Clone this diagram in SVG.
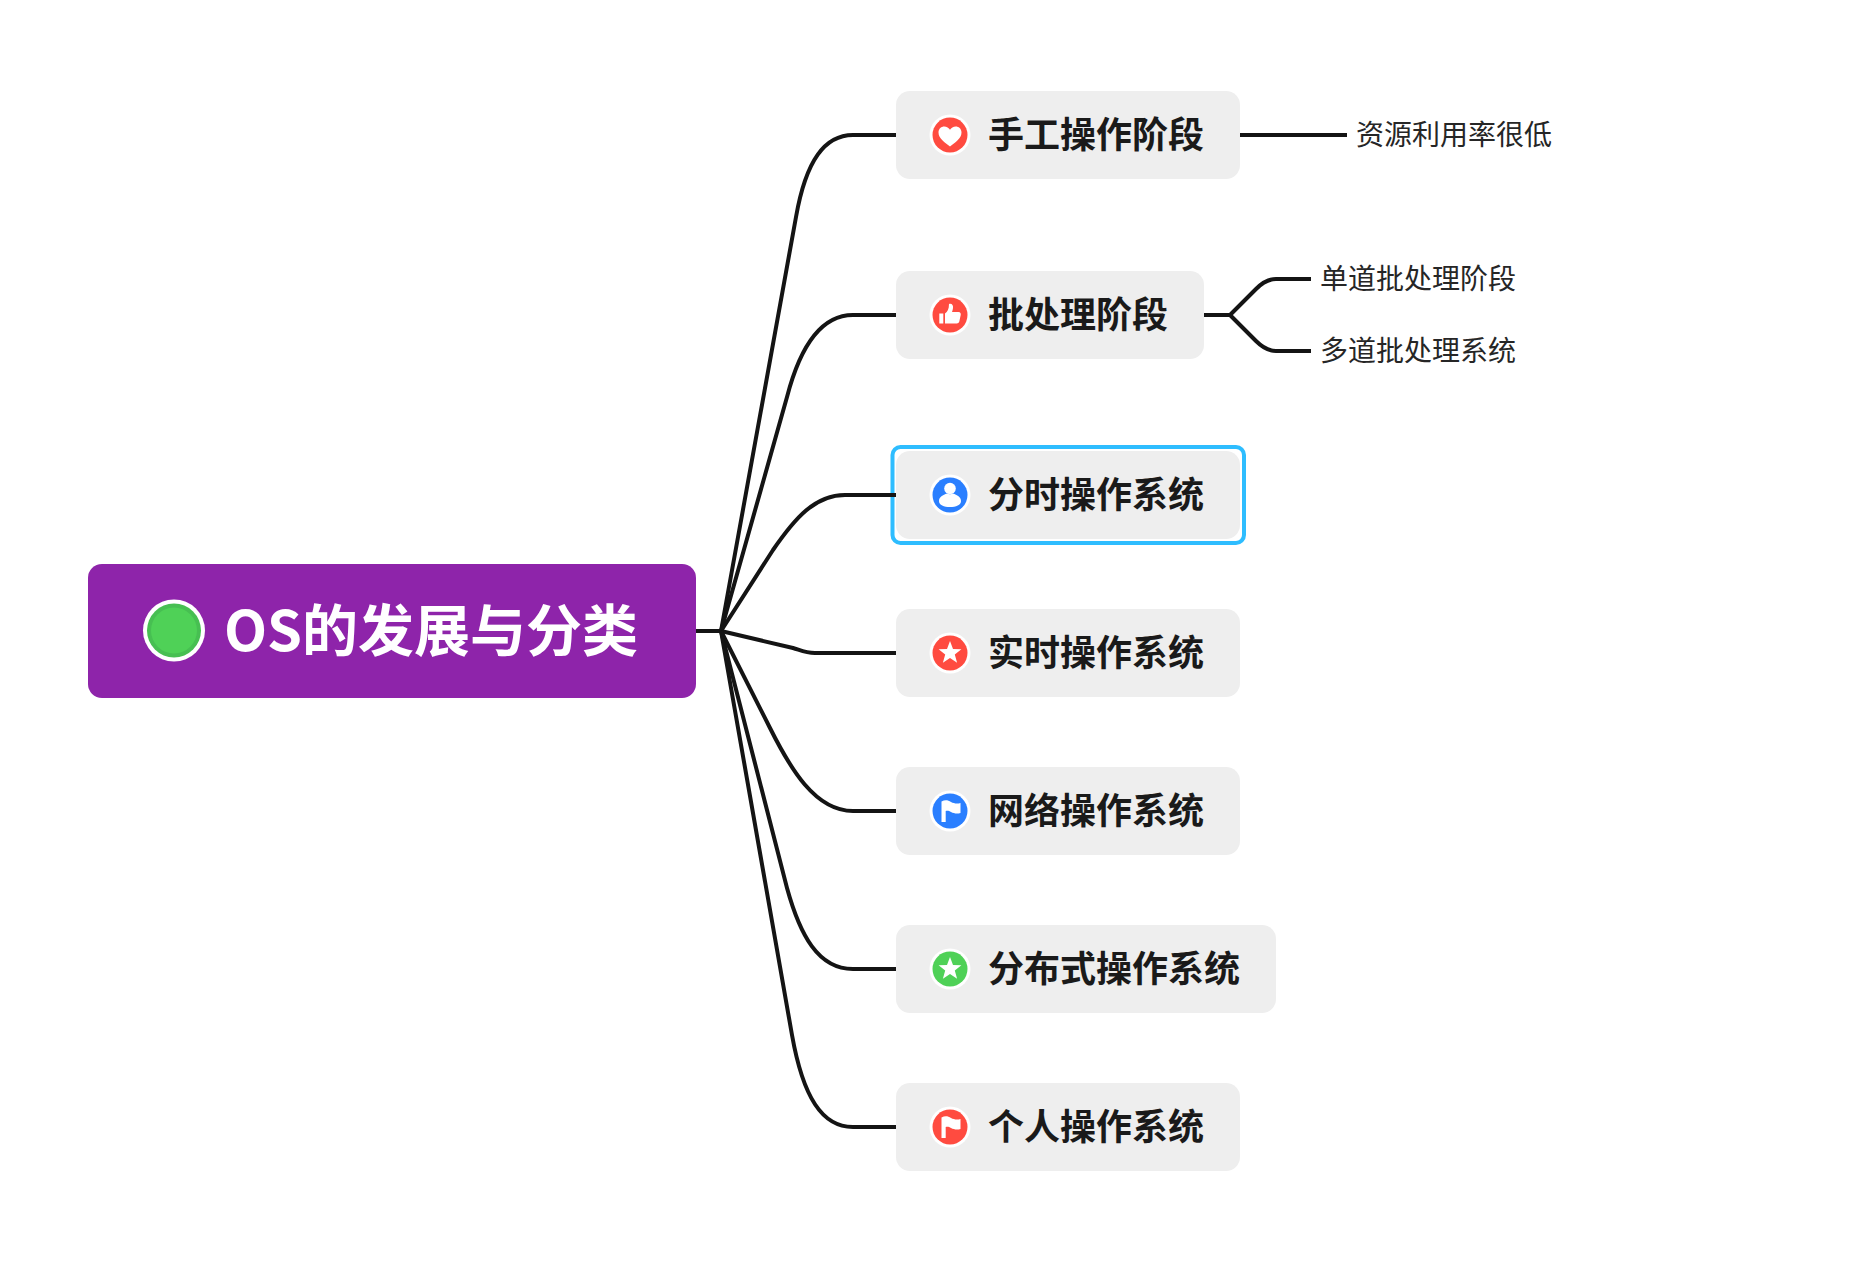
<svg xmlns="http://www.w3.org/2000/svg" width="1874" height="1277" viewBox="0 0 1874 1277">
<style>
text{font-family:"Noto Sans CJK SC","Noto Sans",sans-serif}
.box{fill:#eeeeee}
.t1{font-size:36px;font-weight:700;fill:#1a1a1a}
.t2{font-size:28px;font-weight:400;fill:#262626}
.root{font-size:56px;font-weight:700;fill:#ffffff}
.halo{fill:#ffffff}
.gl{fill:#ffffff}
.red{fill:#ff4b40}.blue{fill:#2a7fff}.green{fill:#4fd157}
.conn{fill:none;stroke:#141414;stroke-width:4;stroke-linejoin:round}
</style>
<defs>
<path id="heart" d="M0 11.5C-5 7.5-11.5 3.5-11.5-2.5C-11.5-6.5-8.5-8.5-5.8-8.5C-3.3-8.5-1.2-7.2 0-5.2C1.2-7.2 3.3-8.5 5.8-8.5C8.5-8.5 11.5-6.5 11.5-2.5C11.5 3.5 5 7.5 0 11.5Z"/>
<path id="thumb" d="M-10.7-1.5H-6.7V8.5H-10.7ZM-5-1.5C-2.5-3-1-6-1-11C1.5-12 3.5-10 3-7C2.8-5.5 2.4-4 2-3H8.5C10.5-3 11-1.5 10.7 0L9.3 6.5C9 7.8 8 8.5 6.8 8.5H-5Z"/>
<g id="person"><circle cx="0" cy="-6.5" r="5.8"/><path d="M-3-1.5C-1.5-0.5 1.5-0.5 3-1.5C7 0 11 2 11 6C11 10 6 12 0 12C-6 12-11 10-11 6C-11 2-7 0-3-1.5Z"/></g>
<path id="flag" d="M-8.5 11V-9.5C-5-11.5-2-11 1-9C4-7.5 7-7 10.5-8V2C7 3 4 2.5 1 1C-1-.5-3-.5-4.3 0V11Z"/>
<path id="star" d="M0-12L3 -4.1L11.4-3.7L4.8 1.6L7.1 9.7L0 5.1L-7.1 9.7L-4.8 1.6L-11.4-3.7L-3-4.1Z"/>
</defs>
<g id="root-node">
<rect x="88" y="564" width="608" height="134" rx="14" fill="#8e24aa"/>
<circle cx="174" cy="630.5" r="31" fill="#ffffff"/>
<circle cx="174" cy="630.5" r="27" fill="#47bf52"/>
<circle cx="174" cy="630.5" r="23" fill="#4fd157"/>
<text class="root" x="224" y="651">OS的发展与分类</text>
</g>
<g id="node-1">
<rect class="box" x="896" y="91" width="344" height="88" rx="14"/>
<circle class="halo" cx="950" cy="135" r="20.5"/><circle class="red" cx="950" cy="135" r="17.5"/>
<use class="gl" href="#heart" x="950" y="135"/>
<text class="t1" x="988" y="148">手工操作阶段</text>
</g>
<g id="node-2">
<rect class="box" x="896" y="271" width="308" height="88" rx="14"/>
<circle class="halo" cx="950" cy="315" r="20.5"/><circle class="red" cx="950" cy="315" r="17.5"/>
<use class="gl" href="#thumb" x="950" y="315"/>
<text class="t1" x="988" y="328">批处理阶段</text>
</g>
<g id="node-3">
<rect x="892.5" y="447" width="351.5" height="96" rx="8" fill="none" stroke="#2ebdff" stroke-width="4"/>
<rect class="box" x="896" y="451" width="344" height="88" rx="14"/>
<circle class="halo" cx="950" cy="495" r="20.5"/><circle class="blue" cx="950" cy="495" r="17.5"/>
<use class="gl" href="#person" x="950" y="495"/>
<text class="t1" x="988" y="508">分时操作系统</text>
</g>
<g id="node-4">
<rect class="box" x="896" y="609" width="344" height="88" rx="14"/>
<circle class="halo" cx="950" cy="653" r="20.5"/><circle class="red" cx="950" cy="653" r="17.5"/>
<use class="gl" href="#star" x="950" y="653"/>
<text class="t1" x="988" y="666">实时操作系统</text>
</g>
<g id="node-5">
<rect class="box" x="896" y="767" width="344" height="88" rx="14"/>
<circle class="halo" cx="950" cy="811" r="20.5"/><circle class="blue" cx="950" cy="811" r="17.5"/>
<use class="gl" href="#flag" x="950" y="811"/>
<text class="t1" x="988" y="824">网络操作系统</text>
</g>
<g id="node-6">
<rect class="box" x="896" y="925" width="380" height="88" rx="14"/>
<circle class="halo" cx="950" cy="969" r="20.5"/><circle class="green" cx="950" cy="969" r="17.5"/>
<use class="gl" href="#star" x="950" y="969"/>
<text class="t1" x="988" y="982">分布式操作系统</text>
</g>
<g id="node-7">
<rect class="box" x="896" y="1083" width="344" height="88" rx="14"/>
<circle class="halo" cx="950" cy="1127" r="20.5"/><circle class="red" cx="950" cy="1127" r="17.5"/>
<use class="gl" href="#flag" x="950" y="1127"/>
<text class="t1" x="988" y="1140">个人操作系统</text>
</g>
<g id="leaf-1"><text class="t2" x="1356" y="145">资源利用率很低</text></g>
<g id="leaf-2"><text class="t2" x="1320" y="289">单道批处理阶段</text></g>
<g id="leaf-3"><text class="t2" x="1320" y="361">多道批处理系统</text></g>
<g id="connectors">
<path class="conn" d="M696 631H721"/>
<path class="conn" d="M721 631L796 217C806 160 825 135 853 135H896"/>
<path class="conn" d="M721 631L787 397C800 347 820 315 853 315H896"/>
<path class="conn" d="M721 631L773 550C795 518 815 495 845 495H896"/>
<path class="conn" d="M721 631L793 648C800 650 805 653 815 653H896"/>
<path class="conn" d="M721 631L770 728C790 768 815 811 853 811H896"/>
<path class="conn" d="M721 631L787 888C800 935 818 969 853 969H896"/>
<path class="conn" d="M721 631L792 1035C803 1097 822 1127 853 1127H896"/>
<path class="conn" d="M1240 135H1347"/>
<path class="conn" d="M1204 315H1230C1238 307 1246 299 1256 289C1262 283 1268 279 1276 279H1311"/>
<path class="conn" d="M1230 315C1238 323 1246 331 1256 341C1262 347 1268 351 1276 351H1311"/>
</g>
</svg>
